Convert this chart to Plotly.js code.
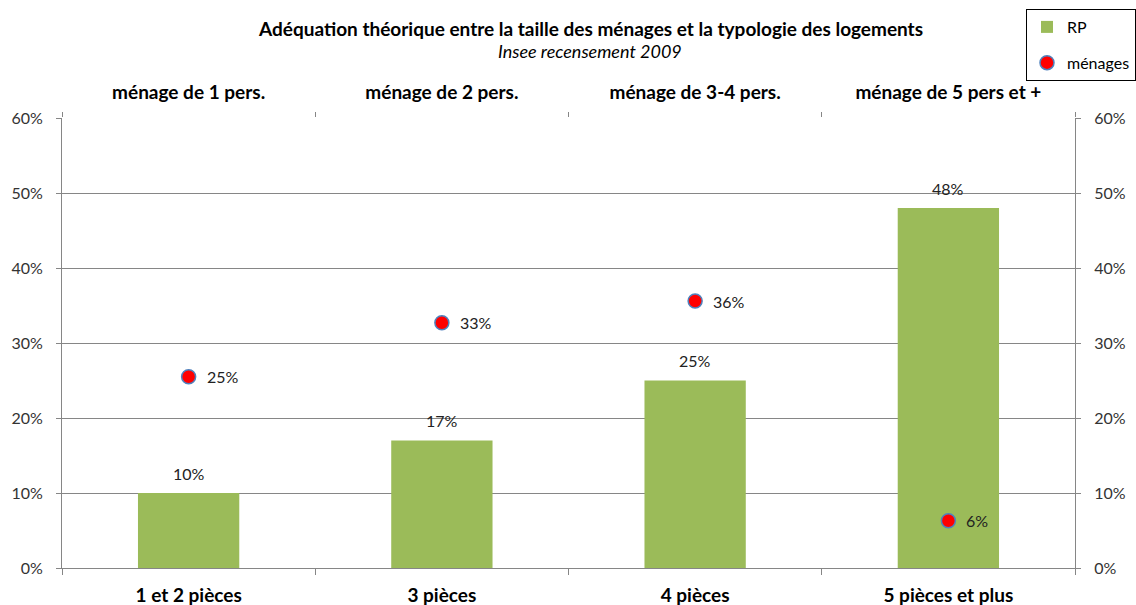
<!DOCTYPE html>
<html><head><meta charset="utf-8">
<script src="https://cdn.plot.ly/plotly-3.0.1.min.js"></script>
<style>html,body{margin:0;padding:0;background:#fff}#chart{width:1136px;height:605px}</style>
</head><body><div id="chart"></div>
<script>
const categories = ["1 et 2 pièces", "3 pièces", "4 pièces", "5 pièces et plus"];
const topLabels = ["ménage de 1 pers.", "ménage de 2 pers.", "ménage de 3-4 pers.", "ménage de 5 pers et +"];
const rpValues = [0.10, 0.17, 0.25, 0.48];
const menagesValues = [0.255, 0.327, 0.356, 0.063];
const rpText = ["10%", "17%", "25%", "48%"];
const menagesText = ["25%", "33%", "36%", "6%"];
const titleText = "Adéquation théorique entre la taille des ménages et la typologie des logements";
const subtitleText = "Insee recensement 2009";

const FONT = "Lato, 'Open Sans', sans-serif";
const GRID = "#868686";

const traces = [
  {type: "bar", name: "RP", legendgroup: "a", x: categories, y: rpValues, width: 0.4,
   marker: {color: "#9BBB59"}, hoverinfo: "skip"},
  {type: "scatter", mode: "markers", name: "ménages", legendgroup: "b", x: categories, y: menagesValues,
   marker: {color: "#FF0000", size: 14, line: {color: "#4F81BD", width: 1.5}},
   cliponaxis: false, hoverinfo: "skip"},
  {type: "scatter", mode: "markers", x: topLabels, y: menagesValues, xaxis: "x2",
   marker: {opacity: 0}, showlegend: false, hoverinfo: "skip"},
  {type: "scatter", mode: "markers", x: categories, y: menagesValues, yaxis: "y2",
   marker: {opacity: 0}, showlegend: false, hoverinfo: "skip"}
];

const annotations = [
  {xref: "paper", yref: "paper", x: (590 - 62) / 1013, y: (568 - 28) / 450, text: "<b>" + titleText + "</b>",
   showarrow: false, xanchor: "center", yanchor: "middle", font: {family: FONT, size: 19, color: "#000"}},
  {xref: "paper", yref: "paper", x: (590 - 62) / 1013, y: (568 - 51) / 450, text: "<i>" + subtitleText + "</i>",
   showarrow: false, xanchor: "center", yanchor: "middle", font: {family: FONT, size: 18, color: "#000"}}
];
categories.forEach((c, i) => {
  annotations.push({x: c, y: rpValues[i], xref: "x", yref: "y", text: rpText[i], showarrow: false,
    xanchor: "center", yanchor: "middle", yshift: 20, font: {family: FONT, size: 16, color: "#222"}});
  annotations.push({x: c, y: menagesValues[i], xref: "x", yref: "y", text: menagesText[i], showarrow: false,
    xanchor: "left", yanchor: "middle", xshift: 16, font: {family: FONT, size: 16, color: "#222"}});
});

const yCommon = {range: [0, 0.6], tickvals: [0, 0.1, 0.2, 0.3, 0.4, 0.5, 0.6],
  tickformat: ".0%", ticks: "outside", ticklen: 5, tickcolor: GRID,
  showline: true, linecolor: GRID, linewidth: 1, ticklabelstandoff: 10,
  tickfont: {family: FONT, size: 16, color: "#333"}, fixedrange: true, zeroline: false};

const layout = {
  width: 1136, height: 605,
  margin: {l: 62, r: 61, t: 118, b: 37, autoexpand: false},
  paper_bgcolor: "#fff", plot_bgcolor: "#fff",
  font: {family: FONT, color: "#000"},
  xaxis: {type: "category", range: [-0.5, 3.5], tickson: "boundaries", ticks: "outside", ticklen: 6,
    tickcolor: GRID, showline: true, linecolor: GRID, showgrid: false, ticklabelstandoff: 10,
    tickfont: {family: FONT, size: 19, color: "#000", weight: "bold"}, fixedrange: true},
  xaxis2: {type: "category", overlaying: "x", side: "top", range: [-0.5, 3.5], tickson: "boundaries",
    ticks: "outside", ticklen: 5, tickcolor: GRID, showline: false, showgrid: false,
    tickfont: {family: FONT, size: 19, color: "#000", weight: "bold"}, fixedrange: true, ticklabelstandoff: 14},
  yaxis: Object.assign({}, yCommon, {showgrid: true, gridcolor: GRID, gridwidth: 1}),
  yaxis2: Object.assign({}, yCommon, {overlaying: "y", side: "right", showgrid: false}),
  showlegend: true,
  legend: {x: 1026/1136, xref: "container", y: 1 - 9/605, yref: "container", xanchor: "left", yanchor: "top",
    bgcolor: "#fff", bordercolor: "#000", borderwidth: 1, traceorder: "grouped", itemwidth: 30,
    font: {family: FONT, size: 16, color: "#000"}, tracegroupgap: 12},
  annotations: annotations
};

Plotly.newPlot("chart", traces, layout, {displayModeBar: false, staticPlot: true});
</script></body></html>
